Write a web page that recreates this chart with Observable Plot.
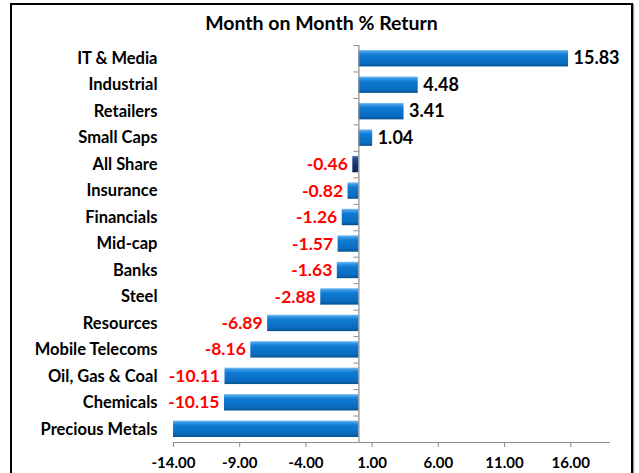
<!DOCTYPE html>
<html>
<head>
<meta charset="utf-8">
<script src="https://cdn.jsdelivr.net/npm/d3@7"></script>
<script src="https://cdn.jsdelivr.net/npm/@observablehq/plot@0.6"></script>
<style>
  body { margin:0; width:639px; height:473px; overflow:hidden; position:relative; background:#fff; font-family: Lato, "Open Sans", sans-serif; }
  #frame { position:absolute; left:10px; top:3px; width:619px; height:490px; border:2px solid #000; box-shadow: 1px 1px 1px #999; }
  #title { position:absolute; left:12px; top:11px; width:619px; text-align:center; font-weight:700; font-size:19.5px; color:#000; }
  #chart { position:absolute; left:0; top:40px; }
</style>
</head>
<body>
<div id="frame"></div>
<div id="title">Month on Month % Return</div>
<div id="chart"></div>
<script>
const categories = ["IT & Media","Industrial","Retailers","Small Caps","All Share","Insurance","Financials","Mid-cap","Banks","Steel","Resources","Mobile Telecoms","Oil, Gas & Coal","Chemicals","Precious Metals"];
const values = [15.83, 4.48, 3.41, 1.04, -0.46, -0.82, -1.26, -1.57, -1.63, -2.88, -6.89, -8.16, -10.11, -10.15, -14.0];
const valueLabels = ["15.83","4.48","3.41","1.04","-0.46","-0.82","-1.26","-1.57","-1.63","-2.88","-6.89","-8.16","-10.11","-10.15",null];
const highlight = "All Share";
const xTicks = [-14, -9, -4, 1, 6, 11, 16];
const xDomain = [-14, 19];

const data = categories.map((c, i) => ({cat: c, value: values[i], label: valueLabels[i]}));

const W = 639, H = 433, mt = 5, mb = 31, ml = 173, mr = 29;
const step = (H - mt - mb) / categories.length;

const plot = Plot.plot({
  width: W, height: H,
  marginTop: mt, marginBottom: mb, marginLeft: ml, marginRight: mr,
  style: {fontFamily: "Lato, 'Open Sans', sans-serif", background: "transparent", overflow: "visible"},
  x: {domain: xDomain, axis: null, label: null},
  y: {domain: categories, paddingInner: 0.38, paddingOuter: 0.19, round: false, axis: null, label: null},
  marks: [
    // bars
    Plot.barX(data, {x: "value", y: "cat",
      fill: d => d.cat === highlight ? "url(#gradDark)" : "url(#gradBlue)",
      style: "filter:url(#shadow)"}),
    // zero (category) axis line
    Plot.ruleX([0], {stroke: "#8c8c8c", strokeWidth: 1.2}),
    // category tick marks between bands
    Plot.ruleY(categories, {y: d => d, x1: -0.38, x2: 0, dy: -step / 2, stroke: "#8c8c8c"}),
    Plot.ruleY([categories[categories.length - 1]], {y: d => d, x1: -0.38, x2: 0, dy: step / 2, stroke: "#8c8c8c"}),
    // x axis line at bottom
    Plot.ruleY([categories[categories.length - 1]], {y: d => d, x1: xDomain[0], x2: xDomain[1], dy: step / 2, stroke: "#8c8c8c", strokeWidth: 1.2}),
    Plot.axisX({ticks: xTicks, tickFormat: d => d.toFixed(2), tickSize: 5, tickPadding: 10, stroke: "#8c8c8c",
      fontSize: 15, fontWeight: 700, fill: "#000", label: null}),
    // category labels
    Plot.axisY({tickSize: 0, tickPadding: 16, fontSize: 16.5, fontWeight: 700, fill: "#000", label: null}),
    // value labels
    Plot.text(data.filter(d => d.label && d.value >= 0), {x: "value", y: "cat", text: "label",
      textAnchor: "start", dx: 5, fill: "#000", fontSize: 18, fontWeight: 700}),
    Plot.text(data.filter(d => d.label && d.value < 0), {x: "value", y: "cat", text: "label",
      textAnchor: "end", dx: -5, fill: "#ff0000", fontSize: 17.5, fontWeight: 700})
  ]
});

// gradient and shadow definitions
const defs = d3.select(plot).insert("defs", ":first-child");
function grad(id, stops) {
  const g = defs.append("linearGradient").attr("id", id).attr("x1", 0).attr("y1", 0).attr("x2", 0).attr("y2", 1);
  stops.forEach(([o, c]) => g.append("stop").attr("offset", o).attr("stop-color", c));
}
grad("gradBlue", [[0, "#7cc0f4"], [0.12, "#3a98e4"], [0.3, "#0f7bd4"], [0.8, "#0a6cc0"], [1, "#06528f"]]);
grad("gradDark", [[0, "#5a78b8"], [0.15, "#2a4c8f"], [0.4, "#1c3a78"], [1, "#0f2350"]]);
const f = defs.append("filter").attr("id", "shadow").attr("x", "-10%").attr("y", "-20%").attr("width", "130%").attr("height", "170%");
f.append("feDropShadow").attr("dx", 1).attr("dy", 2).attr("stdDeviation", 1).attr("flood-color", "#777").attr("flood-opacity", 0.55);

document.getElementById("chart").appendChild(plot);
</script>
</body>
</html>
